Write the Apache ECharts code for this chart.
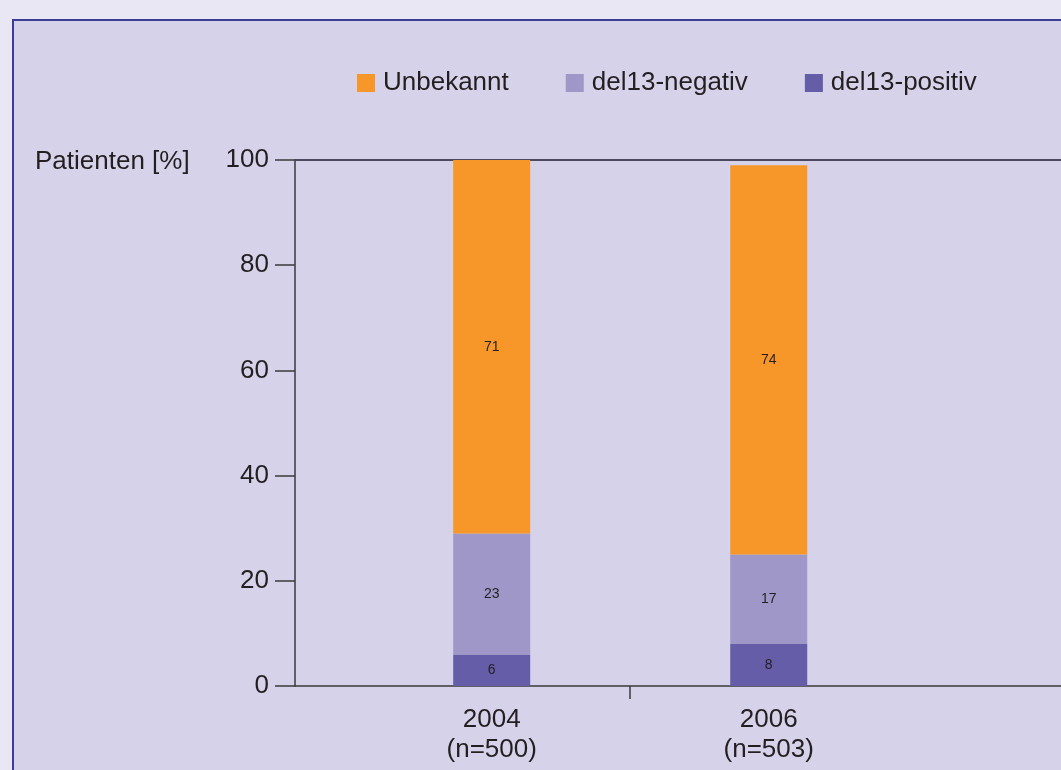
<!DOCTYPE html>
<html>
<head>
<meta charset="utf-8">
<script src="https://cdn.jsdelivr.net/npm/echarts@6/dist/echarts.min.js"></script>
<style>
  html, body { margin: 0; padding: 0; background: #e9e7f3; }
  .frame {
    position: absolute; left: 12px; top: 19px; width: 1100px; height: 800px;
    border-left: 2px solid #3d3d98; border-top: 2px solid #3d3d98;
    background: #d6d2e9;
  }
  #chart { position: absolute; left: 0; top: 0; width: 1061px; height: 770px; }
</style>
</head>
<body>
<div class="frame"></div>
<div id="chart"></div>
<script>
// Jahre und Fallzahlen
var years = ['2004', '2006']
var nLabels = ['(n=500)', '(n=503)']
// Anteile in %
var positiv = [6, 8]
var negativ = [23, 17]
var unbekannt = [71, 74]

var textColor = '#231f20'

// [wert, position] -> encode y: 0, x: 1 (damit auf y gestapelt wird)
function toPoints(arr) {
  return arr.map(function(v, i) { return [v, i + 1] })
}

function barLabel() {
  return {
    show: true,
    position: 'inside',
    fontSize: 14,
    color: textColor,
    formatter: function(p) { return p.value[0] }
  }
}

var chart = echarts.init(document.getElementById('chart'))
chart.setOption({
  title: {
    text: 'Patienten [%]',
    left: 30,
    top: 144,
    textStyle: { fontSize: 26, fontWeight: 'normal', color: textColor, fontFamily: 'Liberation Sans' }
  },
  legend: {
    left: 357,
    top: 70,
    padding: 0,
    itemWidth: 18,
    itemHeight: 18,
    itemGap: 57,
    icon: 'rect',
    data: ['Unbekannt', 'del13-negativ', 'del13-positiv'],
    textStyle: { fontSize: 26, color: textColor, fontFamily: 'Liberation Sans', padding: [0, 0, 0, 3] }
  },
  grid: { left: 295, right: 0, top: 160, bottom: 84 },
  xAxis: [
    {
      type: 'value',
      min: 0.29,
      max: 3.055,
      splitLine: { show: false },
      axisLine: { show: true, lineStyle: { color: '#3a3a3a', width: 1.5 } },
      axisTick: { show: true, length: 13, customValues: [1.5], lineStyle: { color: '#3a3a3a', width: 1.5 } },
      axisLabel: {
        customValues: [1, 2],
        margin: 19,
        fontSize: 26,
        lineHeight: 30,
        color: textColor,
        fontFamily: 'Liberation Sans',
        formatter: function(v) {
          var i = Math.round(v) - 1
          return years[i] + '\n' + nLabels[i]
        }
      }
    },
    {
      type: 'value',
      position: 'top',
      min: 0.29,
      max: 3.055,
      splitLine: { show: false },
      axisLine: { show: true, lineStyle: { color: '#4b4860', width: 2 } },
      axisTick: { show: false },
      axisLabel: { show: false }
    }
  ],
  yAxis: {
    type: 'value',
    min: 0,
    max: 100,
    interval: 20,
    splitLine: { show: false },
    axisLine: { show: true, lineStyle: { color: '#3a3a3a', width: 1.5 } },
    axisTick: { show: true, length: 20, lineStyle: { color: '#3a3a3a', width: 1.5 } },
    axisLabel: { margin: 26, fontSize: 26, color: textColor, fontFamily: 'Liberation Sans' }
  },
  series: [
    {
      name: 'del13-positiv',
      type: 'bar',
      stack: 'total',
      barWidth: 77,
      encode: { x: 1, y: 0 },
      itemStyle: { color: '#655da8' },
      label: barLabel(),
      data: toPoints(positiv)
    },
    {
      name: 'del13-negativ',
      type: 'bar',
      stack: 'total',
      barWidth: 77,
      encode: { x: 1, y: 0 },
      itemStyle: { color: '#9e97c8' },
      label: barLabel(),
      data: toPoints(negativ)
    },
    {
      name: 'Unbekannt',
      type: 'bar',
      stack: 'total',
      barWidth: 77,
      encode: { x: 1, y: 0 },
      itemStyle: { color: '#f7972a' },
      label: barLabel(),
      data: toPoints(unbekannt)
    }
  ]
})
</script>
</body>
</html>
